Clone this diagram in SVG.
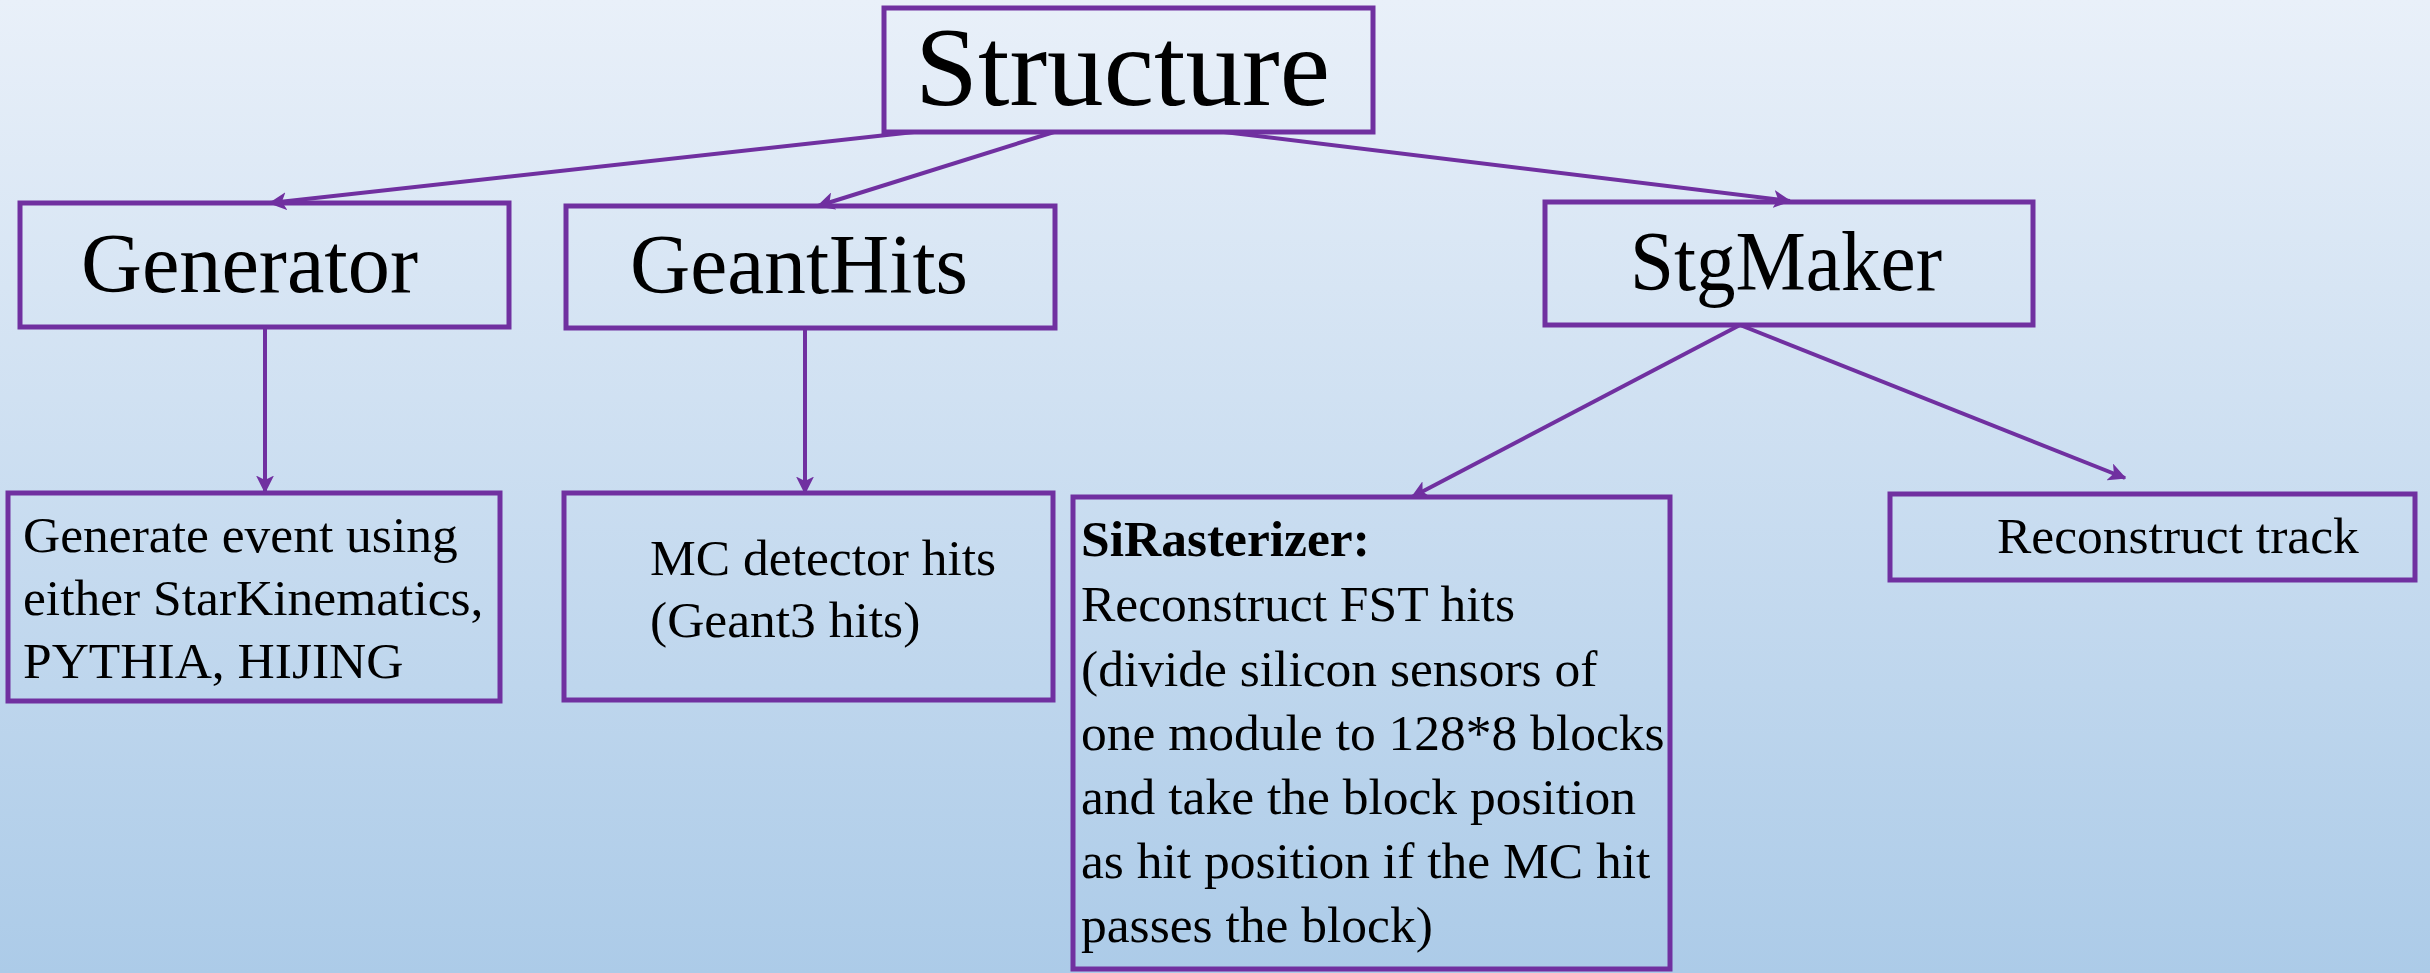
<svg xmlns="http://www.w3.org/2000/svg" width="2430" height="973" viewBox="0 0 2430 973">
<defs>
<linearGradient id="bg" x1="0" y1="0" x2="0" y2="1">
<stop offset="0" stop-color="#e9f0f9"/>
<stop offset="1" stop-color="#accbe8"/>
</linearGradient>
<marker id="arr" viewBox="0 0 12 12" refX="11" refY="6" markerWidth="4.5" markerHeight="4.5" orient="auto" markerUnits="strokeWidth">
<path d="M0,0 L12,6 L0,12 L3,6 Z" fill="#7030a0"/>
</marker>
<style>
.box{fill:none;stroke:#7030a0;stroke-width:5}
.conn line{stroke:#7030a0;stroke-width:4;marker-end:url(#arr)}
.t{font-family:"Liberation Serif","Times New Roman",serif;fill:#000}
.big{font-size:84px}
.body{font-size:51.5px}
</style>
</defs>
<rect x="0" y="0" width="2430" height="973" fill="url(#bg)"/>
<g id="connectors" class="conn">
<line x1="914" y1="132" x2="270" y2="203"/>
<line x1="1054" y1="132" x2="818" y2="206"/>
<line x1="1224" y1="132" x2="1790" y2="201"/>
<line x1="265" y1="327" x2="265" y2="492"/>
<line x1="805" y1="328" x2="805" y2="493"/>
<line x1="1740" y1="325" x2="1412" y2="497"/>
<line x1="1740" y1="325" x2="2125" y2="478"/>
</g>
<g id="structure">
<rect class="box" x="884" y="8" width="489" height="124"/>
<text class="t" x="915" y="105" font-size="112" textLength="415" lengthAdjust="spacingAndGlyphs">Structure</text>
</g>
<g id="generator">
<rect class="box" x="20" y="203" width="489" height="124"/>
<text class="t big" x="81" y="292" textLength="337" lengthAdjust="spacingAndGlyphs">Generator</text>
</g>
<g id="geanthits">
<rect class="box" x="566" y="206" width="489" height="122"/>
<text class="t big" x="630" y="293" textLength="338" lengthAdjust="spacingAndGlyphs">GeantHits</text>
</g>
<g id="stgmaker">
<rect class="box" x="1545" y="202" width="488" height="123"/>
<text class="t big" x="1630" y="290" textLength="312" lengthAdjust="spacingAndGlyphs">StgMaker</text>
</g>
<g id="generate-event">
<rect class="box" x="8" y="493" width="492" height="208"/>
<text class="t body" x="23" y="552">Generate event using</text>
<text class="t body" x="23" y="615">either StarKinematics,</text>
<text class="t body" x="23" y="678">PYTHIA, HIJING</text>
</g>
<g id="mc-hits">
<rect class="box" x="564" y="493" width="489" height="207"/>
<text class="t body" x="650" y="575">MC detector hits</text>
<text class="t body" x="650" y="637">(Geant3 hits)</text>
</g>
<g id="sirasterizer">
<rect class="box" x="1073" y="497" width="597" height="472"/>
<text class="t body" x="1081" y="556" font-weight="bold">SiRasterizer:</text>
<text class="t body" x="1081" y="621">Reconstruct FST hits</text>
<text class="t body" x="1081" y="686">(divide silicon sensors of</text>
<text class="t body" x="1081" y="750">one module to 128*8 blocks</text>
<text class="t body" x="1081" y="814">and take the block position</text>
<text class="t body" x="1081" y="878">as hit position if the MC hit</text>
<text class="t body" x="1081" y="942">passes the block)</text>
</g>
<g id="reconstruct-track">
<rect class="box" x="1890" y="494" width="525" height="86"/>
<text class="t body" x="1997" y="553">Reconstruct track</text>
</g>
</svg>
